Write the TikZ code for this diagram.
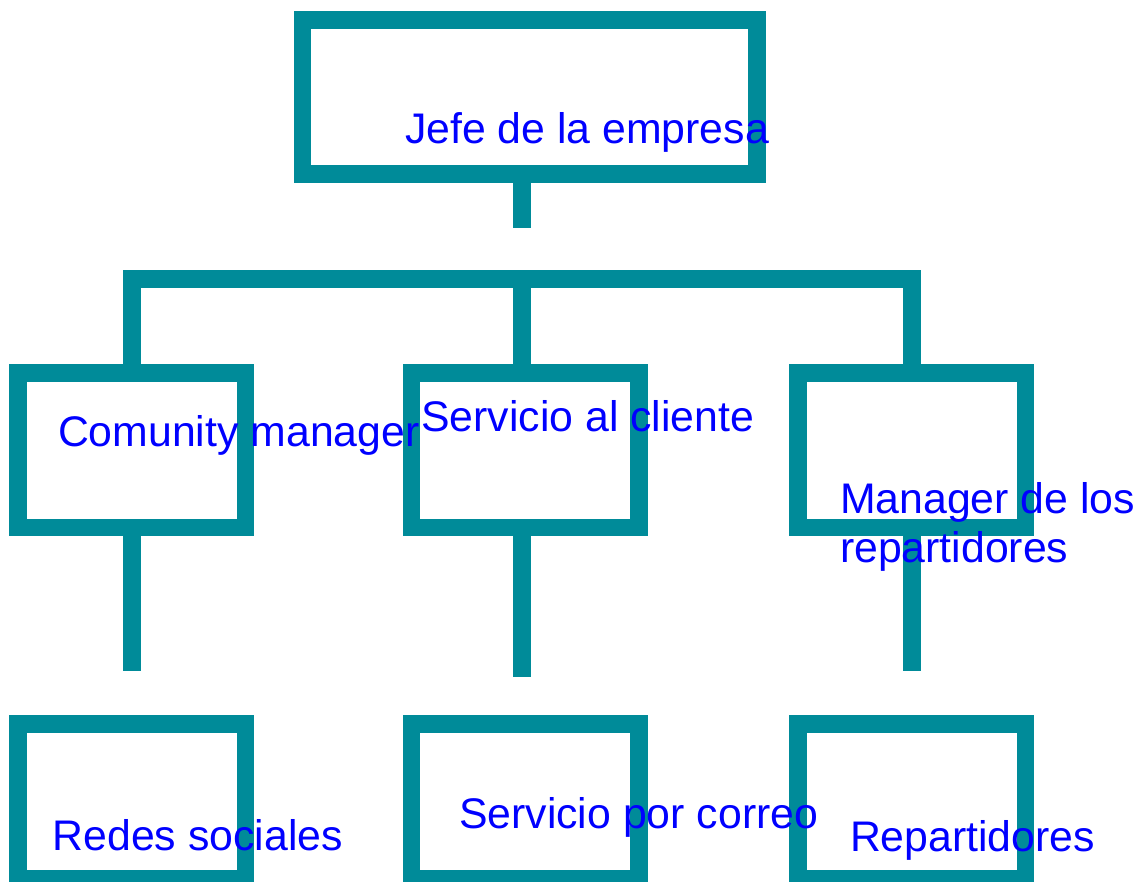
\documentclass[tikz,border=0pt]{standalone}
\usepackage{fontspec}
\setmainfont{Liberation Sans}
\definecolor{tealbox}{RGB}{0,139,153}
\definecolor{txtblue}{RGB}{0,0,255}
\begin{document}
\begin{tikzpicture}[x=1pt,y=-1pt,
  orgbox/.style={draw=tealbox,line width=17.5pt,rectangle,inner sep=0pt,minimum height=154.5pt},
  bigbox/.style={orgbox,minimum width=454.7pt,minimum height=154pt},
  smallbox/.style={orgbox,minimum width=227.3pt},
  conn/.style={draw=tealbox,line width=17.5pt,line cap=butt,line join=miter},
  lbl/.style={text=txtblue,font=\fontsize{42.8}{49}\selectfont,anchor=base west,inner sep=0pt,outer sep=0pt,align=left}]
\useasboundingbox (0,0) rectangle (1139,881);
\clip (0,0) rectangle (1139,881);
% boxes
\node[bigbox] (top) at (529.65,97) {};
\node[smallbox] (mL) at (131.85,450.45) {};
\node[smallbox] (mC) at (525.1,450.45) {};
\node[smallbox] (mR) at (911.85,450.45) {};
\node[smallbox] (bL) at (131.85,801.45) {};
\node[smallbox] (bC) at (525.1,801.45) {};
\node[smallbox] (bR) at (911.85,801.45) {};
% junction coordinates
\coordinate (topEnd) at (522,227.7);
\coordinate (jL) at (132,279);
\coordinate (jC) at (522,279);
\coordinate (jR) at (912,279);
\coordinate (endL) at (132,671.3);
\coordinate (endC) at (522,677);
\coordinate (endR) at (912,671.3);
% connectors
\draw[conn] (topEnd |- top.south) -- (topEnd);
\draw[conn] (jL |- mL.north) -- (jL) -- (jR) -- (jR |- mR.north);
\draw[conn] (jC) -- (jC |- mC.north);
\draw[conn] (endL |- mL.south) -- (endL);
\draw[conn] (endC |- mC.south) -- (endC);
\draw[conn] (endR |- mR.south) -- (endR);
% labels
\node[lbl] (tTop) at (405,143) {Jefe de la empresa};
\node[lbl] (tmL) at (58,446.5) {Comunity manager};
\node[lbl] (tmC) at (421.3,431) {Servicio al cliente};
\node[lbl] (tmR) at (840,562.3) {Manager de los\\repartidores};
\node[lbl] (tbL) at (52.6,850) {Redes sociales};
\node[lbl] (tbC) at (459,828.3) {Servicio por correo};
\node[lbl] (tbR) at (850,851.7) {Repartidores};
\end{tikzpicture}
\end{document}
